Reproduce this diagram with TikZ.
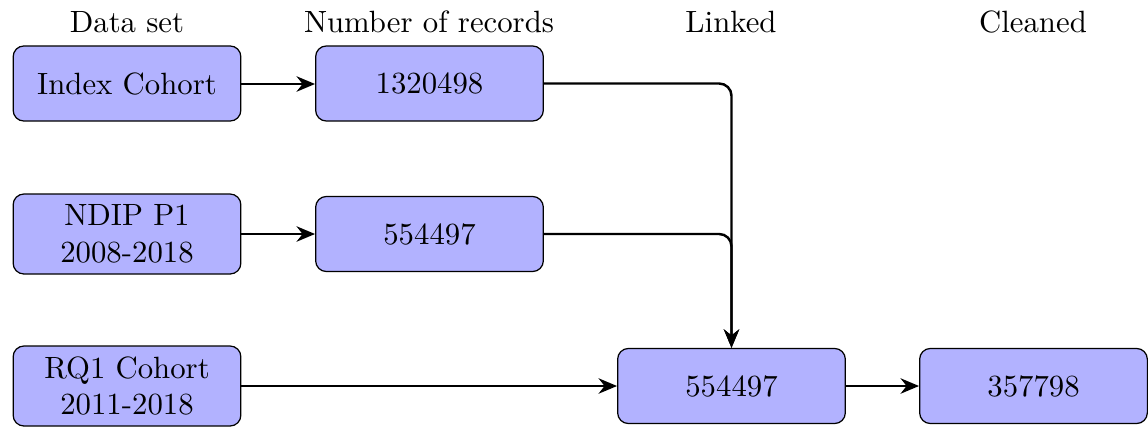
\documentclass[tikz,border=0pt]{standalone}
\usetikzlibrary{arrows.meta}
\tikzset{
  box/.style={draw, rounded corners=3.5pt, fill=blue!30, align=center,
    minimum width=74pt, minimum height=24.4pt, inner sep=2.5pt},
  head/.style={inner sep=0pt},
  link/.style={thick, -{Stealth[length=6pt,width=5pt]}},
}
\begin{document}
\begin{tikzpicture}[x=0.325pt, y=-0.325pt]
  \useasboundingbox (0,0) rectangle (1148,428);
  % column headers
  \node[head] (h1) at (127,22)  {Data set};
  \node[head] (h2) at (429,22)  {Number of records};
  \node[head] (h3) at (731,22)  {Linked};
  \node[head] (h4) at (1033,22) {Cleaned};
  % data sets
  \node[box] (idx)  at (127,83.5) {Index Cohort};
  \node[box, minimum height=26pt] (ndip) at (127,234) {NDIP P1\\2008-2018};
  \node[box, minimum height=26pt] (rq)   at (127,386) {RQ1 Cohort\\2011-2018};
  % record counts
  \node[box] (rec1) at (429.5,83.5) {1320498};
  \node[box] (rec2) at (429.5,234)  {554497};
  % linked and cleaned
  \node[box] (lnk) at (731.5,386) {554497};
  \node[box] (cln) at (1033.5,386) {357798};
  % connectors
  \draw[link] (idx.east |- 0,84) -- (rec1.west |- 0,84);
  \draw[link] (ndip) -- (rec2);
  \draw[link] (rq) -- (lnk);
  \draw[link] (lnk) -- (cln);
  \draw[link, rounded corners=4pt] (rec1.east) -| (lnk.north);
  \draw[link, rounded corners=4pt] (rec2.east) -| (lnk.north);
\end{tikzpicture}
\end{document}
